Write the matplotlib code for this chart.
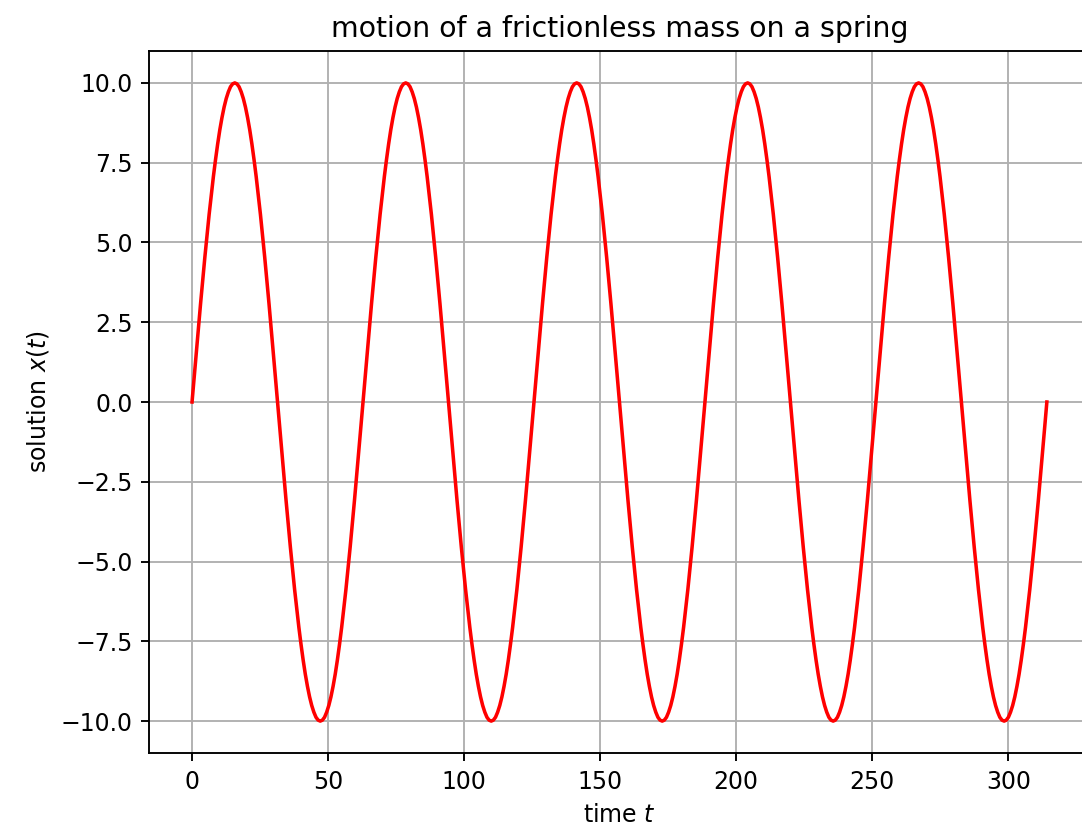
import numpy as np
import matplotlib
matplotlib.use("Agg")
import matplotlib.pyplot as plt

# time axis: 0 .. 100*pi, 401 samples
t_start = 0.0
t_end = 314.16
n_samples = 401

# solution x(t), one row per half swing
x_values = [
    0.00, 0.78, 1.56, 2.33, 3.09, 3.83, 4.54, 5.22, 5.88, 6.49, 7.07, 7.60, 8.09, 8.53, 8.91, 9.24, 9.51, 9.72, 9.88, 9.97,
    10.00, 9.97, 9.88, 9.72, 9.51, 9.24, 8.91, 8.53, 8.09, 7.60, 7.07, 6.49, 5.88, 5.22, 4.54, 3.83, 3.09, 2.33, 1.56, 0.78,
    0.00, -0.78, -1.56, -2.33, -3.09, -3.83, -4.54, -5.22, -5.88, -6.49, -7.07, -7.60, -8.09, -8.53, -8.91, -9.24, -9.51, -9.72, -9.88, -9.97,
    -10.00, -9.97, -9.88, -9.72, -9.51, -9.24, -8.91, -8.53, -8.09, -7.60, -7.07, -6.49, -5.88, -5.22, -4.54, -3.83, -3.09, -2.33, -1.56, -0.78,
    0.00, 0.78, 1.56, 2.33, 3.09, 3.83, 4.54, 5.22, 5.88, 6.49, 7.07, 7.60, 8.09, 8.53, 8.91, 9.24, 9.51, 9.72, 9.88, 9.97,
    10.00, 9.97, 9.88, 9.72, 9.51, 9.24, 8.91, 8.53, 8.09, 7.60, 7.07, 6.49, 5.88, 5.22, 4.54, 3.83, 3.09, 2.33, 1.56, 0.78,
    0.00, -0.78, -1.56, -2.33, -3.09, -3.83, -4.54, -5.22, -5.88, -6.49, -7.07, -7.60, -8.09, -8.53, -8.91, -9.24, -9.51, -9.72, -9.88, -9.97,
    -10.00, -9.97, -9.88, -9.72, -9.51, -9.24, -8.91, -8.53, -8.09, -7.60, -7.07, -6.49, -5.88, -5.22, -4.54, -3.83, -3.09, -2.33, -1.56, -0.78,
    0.00, 0.78, 1.56, 2.33, 3.09, 3.83, 4.54, 5.22, 5.88, 6.49, 7.07, 7.60, 8.09, 8.53, 8.91, 9.24, 9.51, 9.72, 9.88, 9.97,
    10.00, 9.97, 9.88, 9.72, 9.51, 9.24, 8.91, 8.53, 8.09, 7.60, 7.07, 6.49, 5.88, 5.22, 4.54, 3.83, 3.09, 2.33, 1.56, 0.78,
    0.00, -0.78, -1.56, -2.33, -3.09, -3.83, -4.54, -5.22, -5.88, -6.49, -7.07, -7.60, -8.09, -8.53, -8.91, -9.24, -9.51, -9.72, -9.88, -9.97,
    -10.00, -9.97, -9.88, -9.72, -9.51, -9.24, -8.91, -8.53, -8.09, -7.60, -7.07, -6.49, -5.88, -5.22, -4.54, -3.83, -3.09, -2.33, -1.56, -0.78,
    0.00, 0.78, 1.56, 2.33, 3.09, 3.83, 4.54, 5.22, 5.88, 6.49, 7.07, 7.60, 8.09, 8.53, 8.91, 9.24, 9.51, 9.72, 9.88, 9.97,
    10.00, 9.97, 9.88, 9.72, 9.51, 9.24, 8.91, 8.53, 8.09, 7.60, 7.07, 6.49, 5.88, 5.22, 4.54, 3.83, 3.09, 2.33, 1.56, 0.78,
    0.00, -0.78, -1.56, -2.33, -3.09, -3.83, -4.54, -5.22, -5.88, -6.49, -7.07, -7.60, -8.09, -8.53, -8.91, -9.24, -9.51, -9.72, -9.88, -9.97,
    -10.00, -9.97, -9.88, -9.72, -9.51, -9.24, -8.91, -8.53, -8.09, -7.60, -7.07, -6.49, -5.88, -5.22, -4.54, -3.83, -3.09, -2.33, -1.56, -0.78,
    0.00, 0.78, 1.56, 2.33, 3.09, 3.83, 4.54, 5.22, 5.88, 6.49, 7.07, 7.60, 8.09, 8.53, 8.91, 9.24, 9.51, 9.72, 9.88, 9.97,
    10.00, 9.97, 9.88, 9.72, 9.51, 9.24, 8.91, 8.53, 8.09, 7.60, 7.07, 6.49, 5.88, 5.22, 4.54, 3.83, 3.09, 2.33, 1.56, 0.78,
    0.00, -0.78, -1.56, -2.33, -3.09, -3.83, -4.54, -5.22, -5.88, -6.49, -7.07, -7.60, -8.09, -8.53, -8.91, -9.24, -9.51, -9.72, -9.88, -9.97,
    -10.00, -9.97, -9.88, -9.72, -9.51, -9.24, -8.91, -8.53, -8.09, -7.60, -7.07, -6.49, -5.88, -5.22, -4.54, -3.83, -3.09, -2.33, -1.56, -0.78,
    0.00,
]

t = np.linspace(t_start, t_end, n_samples)

dpi = 170
fig = plt.figure(figsize=(1082 / dpi, 833 / dpi), dpi=dpi)
# axes run a little past the right edge, like the cropped original
ax = fig.add_axes([149.3 / 1082, 1 - 753 / 833, (1089.6 - 149.3) / 1082, (753 - 51) / 833])

ax.plot(t, x_values, color='red')
ax.grid(True)
ax.set_title('motion of a frictionless mass on a spring')
ax.set_xlabel('time $t$')
ax.set_ylabel('solution $x(t)$')

fig.savefig('out.png', dpi=dpi)
